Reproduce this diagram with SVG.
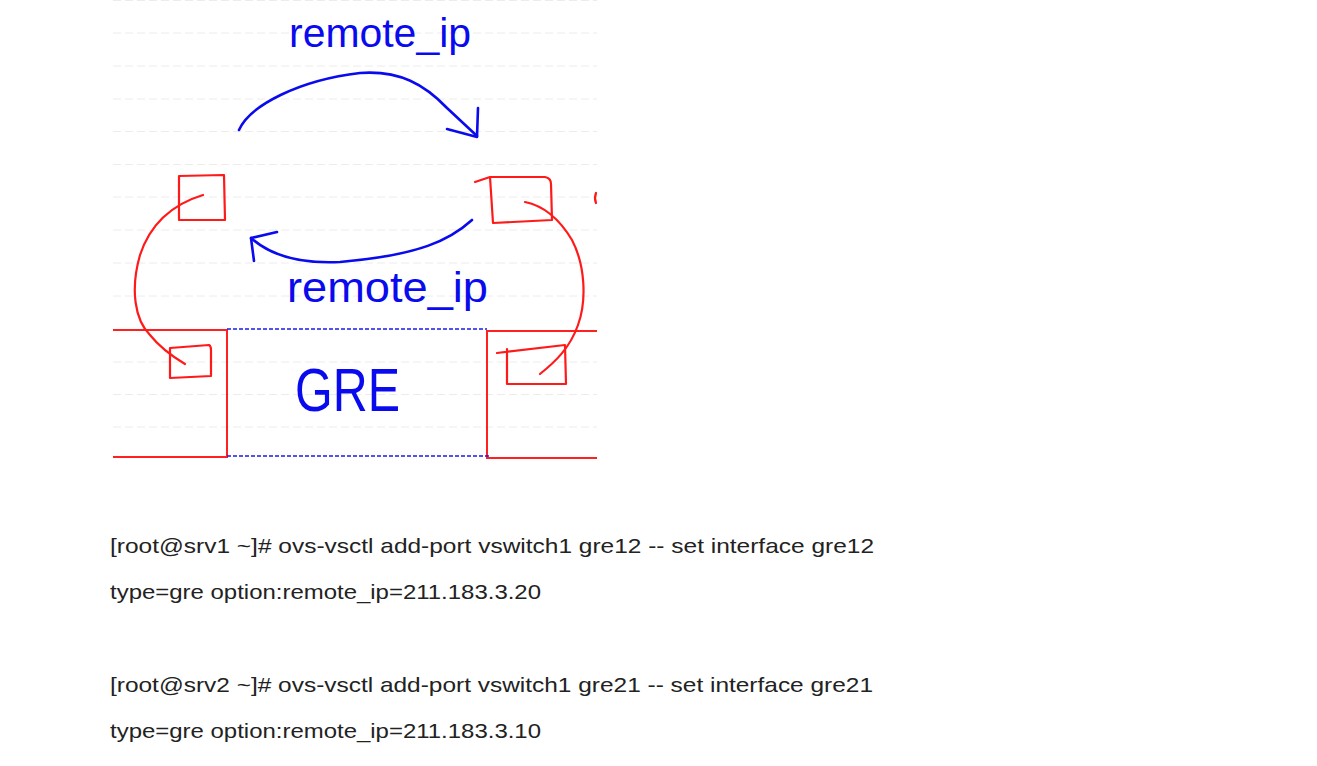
<svg xmlns="http://www.w3.org/2000/svg" width="1317" height="766" viewBox="0 0 1317 766">
<style>
.grid{stroke:#ececec;stroke-width:1;stroke-dasharray:8 4;fill:none}
.red{stroke:#ff1a1a;stroke-width:2.2;fill:none;stroke-linecap:round;stroke-linejoin:round}
.box{stroke:#ff2020;stroke-width:2;fill:none}
.blue{stroke:#0a0aee;stroke-width:2.6;fill:none;stroke-linecap:round;stroke-linejoin:round}
.dash{stroke:#1a1aee;stroke-width:1.6;stroke-dasharray:4 2;fill:none}
.hand{font-family:"Liberation Sans",Arial,sans-serif;fill:#0a0aee;lengthAdjust:spacingAndGlyphs}
.cmd{font-family:"Liberation Sans",Arial,sans-serif;font-size:21px;fill:#222}
</style>
<rect width="1317" height="766" fill="#fff"/>
<g id="grid">
<line class="grid" x1="113" y1="0.5" x2="597" y2="0.5"/>
<line class="grid" x1="113" y1="33" x2="597" y2="33"/>
<line class="grid" x1="113" y1="66" x2="597" y2="66"/>
<line class="grid" x1="113" y1="99" x2="597" y2="99"/>
<line class="grid" x1="113" y1="131.5" x2="597" y2="131.5"/>
<line class="grid" x1="113" y1="164.5" x2="597" y2="164.5"/>
<line class="grid" x1="113" y1="197" x2="597" y2="197"/>
<line class="grid" x1="113" y1="230" x2="597" y2="230"/>
<line class="grid" x1="113" y1="263" x2="597" y2="263"/>
<line class="grid" x1="113" y1="296" x2="597" y2="296"/>
<line class="grid" x1="113" y1="362" x2="597" y2="362"/>
<line class="grid" x1="113" y1="394.5" x2="597" y2="394.5"/>
<line class="grid" x1="113" y1="427" x2="597" y2="427"/>
</g>
<g id="host-left">
<path class="box" d="M113,330 H227 V457 H113"/>
</g>
<g id="host-right">
<path class="box" d="M597,331 H487 V458 H597"/>
</g>
<g id="gre-tunnel">
<line class="dash" x1="227" y1="329" x2="487" y2="329"/>
<line class="dash" x1="227" y1="456" x2="489" y2="456"/>
<text class="hand" x="295" y="411" font-size="62" textLength="105" lengthAdjust="spacingAndGlyphs">GRE</text>
</g>
<g id="port-top-left">
<path class="red" d="M179,176 L224,175 L225,220 L179,220 Z"/>
</g>
<g id="port-top-right">
<path class="red" d="M475,182 L490,177 L545,177 Q551,178 551,184 L552,220 L493,223 L490,177"/>
</g>
<g id="port-bottom-left">
<path class="red" d="M170,348 L209,345 Q211,346 211,350 L211,376 L170,378 Z"/>
</g>
<g id="port-bottom-right">
<path class="red" d="M497,353 L565,345 L566,384 L507,384 L507,349"/>
</g>
<g id="mark">
<path class="red" d="M596,193 Q594,198 596,203"/>
</g>
<g id="connectors">
<path class="red" d="M203,195 C170,205 150,225 140,255 C130,290 135,320 150,335 C162,350 175,358 185,364"/>
<path class="red" d="M525,202 C545,206 560,220 572,240 C585,265 587,300 578,325 C570,348 555,362 540,374"/>
<path class="blue" d="M239,130 C250,105 300,80 360,73 C400,70 425,85 447,108 L477,136"/>
<path class="blue" d="M478,108 L477,137 L447,129"/>
<path class="blue" d="M472,220 C450,240 420,255 340,262 C300,264 270,255 251,238"/>
<path class="blue" d="M277,232 L251,238 L254,261"/>
</g>
<g id="labels">
<text class="hand" x="289" y="47" font-size="40" textLength="182" lengthAdjust="spacingAndGlyphs">remote_ip</text>
<text class="hand" x="287" y="302" font-size="42" textLength="201" lengthAdjust="spacingAndGlyphs">remote_ip</text>
</g>
<g id="commands">
<text class="cmd" x="110" y="553" textLength="764" lengthAdjust="spacingAndGlyphs">[root@srv1 ~]# ovs-vsctl add-port vswitch1 gre12 -- set interface gre12</text>
<text class="cmd" x="110" y="599" textLength="431" lengthAdjust="spacingAndGlyphs">type=gre option:remote_ip=211.183.3.20</text>
<text class="cmd" x="110" y="692" textLength="763" lengthAdjust="spacingAndGlyphs">[root@srv2 ~]# ovs-vsctl add-port vswitch1 gre21 -- set interface gre21</text>
<text class="cmd" x="110" y="738" textLength="431" lengthAdjust="spacingAndGlyphs">type=gre option:remote_ip=211.183.3.10</text>
</g>
</svg>
